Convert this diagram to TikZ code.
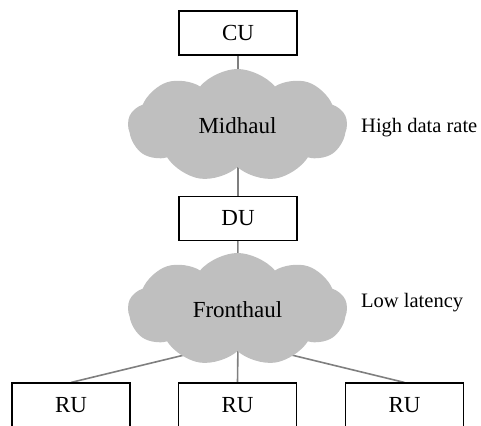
\documentclass[tikz,border=0pt]{standalone}
\usepackage{fontspec}
\setmainfont{Liberation Serif}
\usetikzlibrary{shapes.symbols,backgrounds}

\begin{document}
\begin{tikzpicture}[x=1pt, y=-1pt,
		unitbox/.style={draw, shape=rectangle, line width=1.1pt, minimum height=44pt, minimum width=118pt, inner sep=0, font=\fontsize{23}{26}\selectfont},
		haulcloud/.style={cloud, cloud puffs=9, cloud puff arc=100, aspect=2.1, fill=cloudgray, minimum width=219pt, minimum height=113pt, inner sep=0, font=\fontsize{23}{26}\selectfont},
		link/.style={draw=linkgray, line width=1.6pt},
		note/.style={anchor=west, inner sep=0, font=\fontsize{20.5}{24}\selectfont}]
	\definecolor{cloudgray}{HTML}{BFBFBF}
	\definecolor{linkgray}{HTML}{7F7F7F}
	\clip (0,0) rectangle (481,425);

	\node[unitbox] (cu) at (238,33){CU};
	\node[haulcloud] (mid) at (237.5,125.5){Midhaul};
	\node[note] (rate) at (361,128){High data rate};

	\node[unitbox] (du) at (238,218.5){DU};
	\node[haulcloud] (fh) at (237.5,309.5){Fronthaul};
	\node[note] (lat) at (361,303){Low latency};

	\foreach \x/\n in {71/1,237.5/2,404.5/3}
		{
			\node[unitbox] (ru\n) at (\x,405){RU};
		}
	\coordinate (hub) at (238,342);

	\begin{scope}[on background layer]
		\draw[link] (cu) -- (du);
		\draw[link] (du) -- (fh.center);
		\foreach \n in {1,2,3}
			{
				\draw[link] (hub) -- (ru\n.north);
			}
	\end{scope}
\end{tikzpicture}
\end{document}
